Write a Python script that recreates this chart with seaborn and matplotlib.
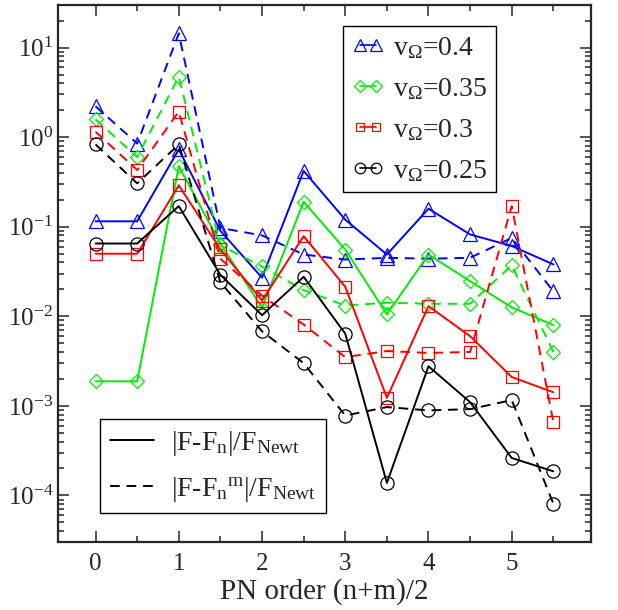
import numpy as np
import seaborn as sns
import matplotlib
matplotlib.use("Agg")
import matplotlib.pyplot as plt
from matplotlib.lines import Line2D
from matplotlib.ticker import LogLocator, MultipleLocator, NullFormatter

# PN order (n+m)/2
pn_order = [0, 0.5, 1, 1.5, 2, 2.5, 3, 3.5, 4, 4.5, 5, 5.5]

# |F-F_n|/F_Newt  (solid)
err_04 = [0.115, 0.115, 0.73, 0.09, 0.027, 0.42, 0.12, 0.049, 0.159, 0.082, 0.061, 0.038]
err_035 = [0.00188, 0.00188, 0.475, 0.065, 0.0125, 0.19, 0.0557, 0.0105, 0.049, 0.0247, 0.0126, 0.008]
err_03 = [0.05, 0.05, 0.29, 0.056, 0.015, 0.0785, 0.0214, 0.00123, 0.013, 0.006, 0.0021, 0.00142]
err_025 = [0.065, 0.065, 0.17, 0.029, 0.0103, 0.0276, 0.0064, 0.000138, 0.00277, 0.0011, 0.000262, 0.000186]

# |F-F_n^m|/F_Newt  (dashed)
errm_04 = [2.21, 0.85, 14.4, 0.097, 0.08, 0.049, 0.043, 0.045, 0.044, 0.045, 0.075, 0.019]
errm_035 = [1.58, 0.6, 4.74, 0.062, 0.036, 0.0196, 0.0132, 0.0142, 0.0138, 0.0138, 0.037, 0.004]
errm_03 = [1.15, 0.43, 1.93, 0.044, 0.017, 0.0081, 0.0035, 0.0041, 0.0039, 0.0040, 0.17, 0.00066]
errm_025 = [0.83, 0.305, 0.83, 0.024, 0.0068, 0.003, 0.00078, 0.00097, 0.00089, 0.00092, 0.00116, 0.000081]

v_labels = ["0.4", "0.35", "0.3", "0.25"]
colors = ["#0000ff", "#00ee00", "#ff0000", "#000000"]
markers = ["^", "D", "s", "o"]
msizes = [10, 7.5, 8, 9.5]
solid = [err_04, err_035, err_03, err_025]
dashed = [errm_04, errm_035, errm_03, errm_025]

sns.set_style("ticks")
plt.rcParams["font.family"] = ["Liberation Serif", "DejaVu Serif"]
plt.rcParams["mathtext.fontset"] = "custom"
plt.rcParams["mathtext.rm"] = "Liberation Serif"
plt.rcParams["mathtext.it"] = "Liberation Serif:italic"

fig = plt.figure(figsize=(6.18, 6.10), dpi=100)
ax = fig.add_axes([0.094, 0.111, 0.862, 0.881])

dash = (0, (5, 3.5))
for ys, ym, c, m, ms in zip(solid, dashed, colors, markers, msizes):
    sns.lineplot(x=pn_order, y=ys, ax=ax, color=c, marker=m, markersize=ms,
                 markerfacecolor="none", markeredgecolor=c, markeredgewidth=0.9,
                 linewidth=1.4, legend=False)
    sns.lineplot(x=pn_order, y=ym, ax=ax, color=c, marker=m, markersize=ms,
                 markerfacecolor="none", markeredgecolor=c, markeredgewidth=0.9,
                 linewidth=1.4, linestyle=dash, legend=False)

ax.set_yscale("log")
ax.set_ylim(3e-5, 30)
ax.set_xlim(-0.45, 5.95)
ax.xaxis.set_major_locator(MultipleLocator(1))
ax.xaxis.set_minor_locator(MultipleLocator(0.5))
ax.yaxis.set_major_locator(LogLocator(base=10, numticks=20))
ax.yaxis.set_minor_locator(LogLocator(base=10, subs=np.arange(2, 10), numticks=20))
ax.yaxis.set_minor_formatter(NullFormatter())
ax.tick_params(which="both", direction="in", top=True, right=True, labelsize=18, width=1.1)
ax.tick_params(which="major", length=8)
ax.tick_params(which="minor", length=4.5)
ax.tick_params(axis="x", which="both", pad=8)
for s in ax.spines.values():
    s.set_linewidth(1.6)
ax.set_xlabel("PN order (n+m)/2", fontsize=21, labelpad=2)
ax.yaxis.label.set_visible(False)
ax.yaxis.offsetText.set_visible(False)

handles = [Line2D([], [], color=c, marker=m, markersize=ms * 0.8, markerfacecolor="none",
                  markeredgecolor=c, markeredgewidth=0.9, linewidth=1.2)
           for c, m, ms in zip(colors, markers, msizes)]
labels = [r"v$_\Omega$=" + v for v in v_labels]
leg1 = ax.legend(handles, labels, loc="upper left", bbox_to_anchor=(0.535, 0.96),
                 borderaxespad=0, fontsize=20, numpoints=2, handlelength=1.2,
                 handletextpad=0.3, labelspacing=0.55, fancybox=False,
                 edgecolor="black", framealpha=1, borderpad=0.3)
leg1.get_frame().set_linewidth(1.0)
ax.add_artist(leg1)

h2 = [Line2D([], [], color="black", linewidth=1.4),
      Line2D([], [], color="black", linewidth=1.4, linestyle=dash)]
l2 = [r"|F-F$_\mathrm{n}$|/F$_\mathrm{Newt}$",
      r"|F-F$_\mathrm{n}{}^\mathrm{m}$|/F$_\mathrm{Newt}$"]
leg2 = ax.legend(h2, l2, loc="lower left", bbox_to_anchor=(0.079, 0.054),
                 borderaxespad=0, fontsize=20, handlelength=1.6,
                 handletextpad=0.6, labelspacing=0.6, fancybox=False,
                 edgecolor="black", framealpha=1, borderpad=0.35)
leg2.get_frame().set_linewidth(1.0)

fig.savefig("out.png", dpi=100)
